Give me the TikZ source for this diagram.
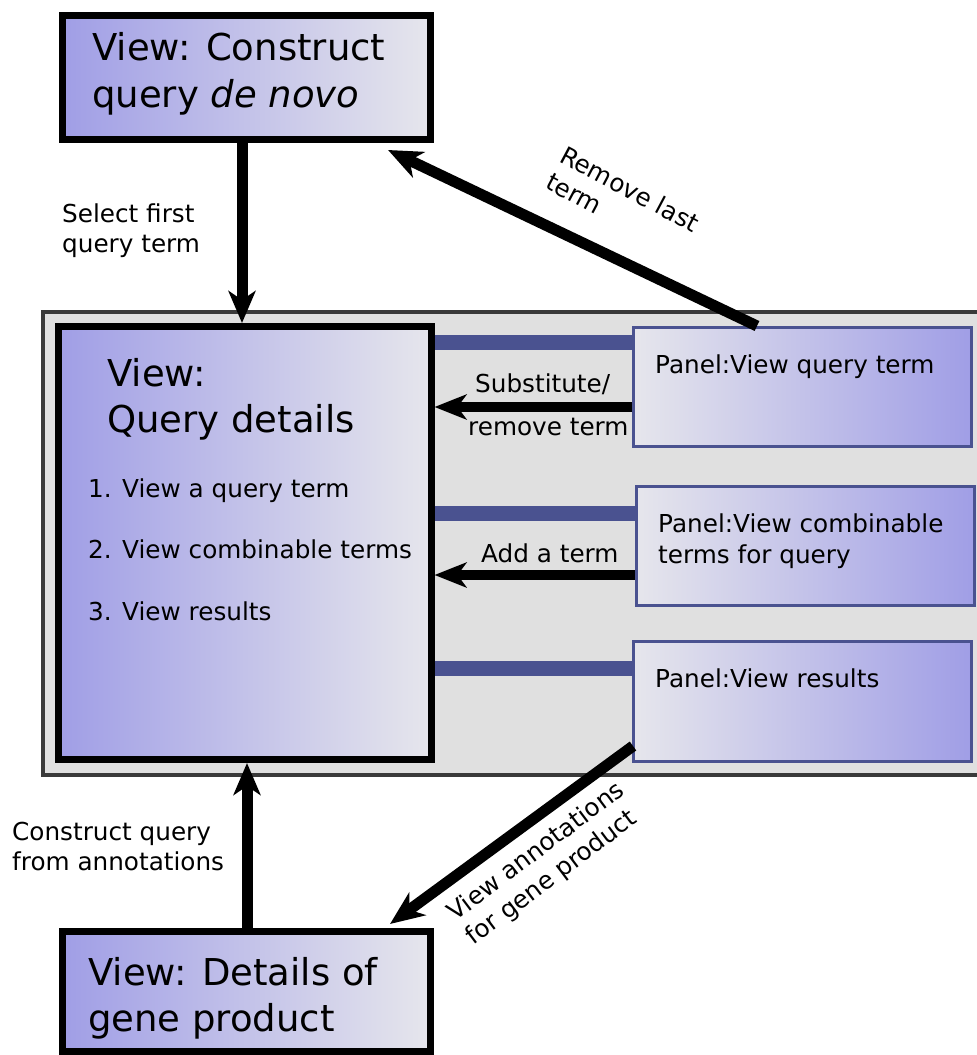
\documentclass[tikz,border=0pt]{standalone}
\usepackage{fontspec}
\setmainfont{DejaVu Sans}
\usetikzlibrary{arrows.meta,calc}
\definecolor{vpurple}{RGB}{160,158,230}
\definecolor{vlight}{RGB}{230,230,236}
\definecolor{cfill}{RGB}{224,224,224}
\definecolor{cborder}{RGB}{58,58,58}
\definecolor{pblue}{RGB}{74,82,144}
\begin{document}
\begin{tikzpicture}[x=1pt,y=-1pt,
  viewbox/.style={draw=black, line width=7pt, left color=vpurple, right color=vlight, inner sep=0pt},
  panelbox/.style={draw=pblue, line width=3pt, left color=vlight, right color=vpurple, inner sep=0pt},
  container/.style={draw=cborder, line width=4pt, fill=cfill, inner sep=0pt},
  bigtxt/.style={font=\fontsize{37}{46}\selectfont, anchor=base west, inner sep=0pt},
  smalltxt/.style={font=\fontsize{24.7}{30}\selectfont, anchor=base west, inner sep=0pt},
  bar/.style={draw=pblue, line width=15pt},
  vflow/.style={line width=11pt, -{Stealth[length=32pt,width=27pt,inset=9pt]}},
  hflow/.style={line width=10pt, -{Stealth[length=32pt,width=25pt,inset=9pt]}},
  dflow/.style={line width=11pt, -{Stealth[length=34pt,width=28pt,inset=10pt]}}
]
\useasboundingbox (0,0) rectangle (977,1055);
\clip (0,0) rectangle (977,1055);

% container
\node[container, minimum width=952pt, minimum height=463pt] (cont) at (519,543.5) {};

% view boxes
\node[viewbox, minimum width=368pt, minimum height=124pt] (top) at (246.5,77.5) {};
\node[viewbox, minimum width=372.5pt, minimum height=433pt] (query) at (244.75,543) {};
\node[viewbox, minimum width=368pt, minimum height=120pt] (bottom) at (246.5,991.5) {};

% connecting bars (drawn under the panels)
\coordinate (bar1) at (0,342);
\coordinate (bar2) at (0,513);
\coordinate (bar3) at (0,668);
\draw[bar] (query.east |- bar1) -- (634,342);
\draw[bar] (query.east |- bar2) -- (637,513);
\draw[bar] (query.east |- bar3) -- (634,668);

% panels
\node[panelbox, minimum width=337.5pt, minimum height=118.5pt] (p1) at (802.25,386.75) {};
\node[panelbox, minimum width=338.5pt, minimum height=119pt] (p2) at (805.25,546) {};
\node[panelbox, minimum width=337.5pt, minimum height=120pt] (p3) at (802.25,701.5) {};

% texts in boxes
\node[bigtxt] (t1) at (92,60) {View: Construct};
\node[bigtxt] (t2) at (92,107) {query \textit{de novo}};
\node[bigtxt] (q1) at (107,386) {View:};
\node[bigtxt] (q2) at (107,432) {Query details};
\node[smalltxt] (i1) at (88,497) {1. View a query term};
\node[smalltxt] (i2) at (88,558) {2. View combinable terms};
\node[smalltxt] (i3) at (88,620) {3. View results};
\node[bigtxt] (b1) at (88,985) {View: Details of};
\node[bigtxt] (b2) at (88,1031) {gene product};
\node[smalltxt] (pt1) at (655,373) {Panel:View query term};
\node[smalltxt] (pt2) at (658,532) {Panel:View combinable};
\node[smalltxt] (pt3) at (658,563) {terms for query};
\node[smalltxt] (pt4) at (655,687) {Panel:View results};

% arrows
\draw[vflow] (top.south -| 242,0) -- (query.north -| 242,0);
\draw[vflow] (bottom.north -| 247,0) -- (query.south -| 247,0);
\draw[hflow] (p1.west |- 0,407) -- (query.east |- 0,407);
\draw[hflow] (p2.west |- 0,575) -- (query.east |- 0,575);
\coordinate (rlstart) at ($(p1.north west)+(125,0)$);
\coordinate (rlend) at ($(top.south east)+(-46,7)$);
\draw[dflow] (rlstart) -- (rlend);
\coordinate (vastart) at ($(p3.south west)+(1,-17)$);
\coordinate (vaend) at ($(bottom.north east)+(-44,-4)$);
\draw[dflow] (vastart) -- (vaend);

% arrow labels
\node[smalltxt] (l1) at (62,222) {Select first};
\node[smalltxt] (l2) at (62,252) {query term};
\node[smalltxt] (l3) at (12,840) {Construct query};
\node[smalltxt] (l4) at (12,870) {from annotations};
\node[smalltxt] (l5) at (475,392) {Substitute/};
\node[smalltxt] (l6) at (468,435) {remove term};
\node[smalltxt] (l7) at (481,562) {Add a term};
\node[smalltxt, rotate=-28] (l8) at (558,161) {Remove last};
\node[smalltxt, rotate=-28] (l9) at (544,187.5) {term};
\node[smalltxt, rotate=37] (l10) at (455.5,922) {View annotations};
\node[smalltxt, rotate=37] (l11) at (473.5,946) {for gene product};
\end{tikzpicture}
\end{document}
